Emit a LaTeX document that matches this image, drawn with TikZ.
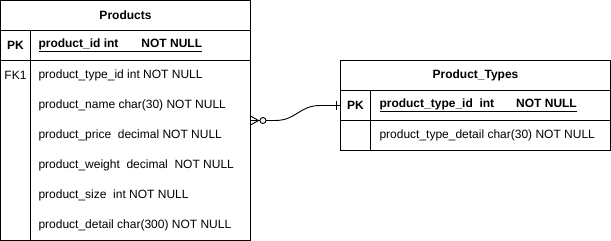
\documentclass[tikz,border=0pt]{standalone}
\usepackage{fontspec}
\setmainfont{Liberation Sans}
\usetikzlibrary{positioning, calc}

\begin{document}
\begin{tikzpicture}[x=1pt, y=-1pt, line width=1pt, font=\fontsize{12}{14}\selectfont]
    \tikzset{
      cell/.style={draw, anchor=north west, inner sep=0pt, outer sep=0pt, minimum height=30pt},
      field/.style={anchor=west, inner sep=0pt},
      conn/.style={draw, line width=0.9pt},
    }
    \useasboundingbox (0,0) rectangle (611,241);

    % Tabelle Products
    \node[cell, minimum width=250pt] (prod) at (0.5,0.5) {\bfseries Products};
    \node[cell, minimum width=30pt] (prodpk) at (0.5,30.5) {\bfseries PK};
    \node[cell, minimum width=220pt] (prodkey) at (30.5,30.5) {};
    \node[cell, minimum width=30pt, minimum height=180pt] (prodfk) at (0.5,60.5) {};
    \node[cell, minimum width=220pt, minimum height=180pt] (prodbody) at (30.5,60.5) {};
    \node[field] (prodid) at (38,45.5) {\bfseries\underline{product\_id int\hspace{23pt}NOT NULL}};
    \node (fklabel) at (15.5,75.5) {FK1};
    \foreach \txt [count=\i from 0] in {product\_type\_id int NOT NULL,
        product\_name char(30) NOT NULL,
        product\_price\ \ decimal NOT NULL,
        product\_weight\ \ decimal\ \ NOT NULL,
        product\_size\ \ int NOT NULL,
        product\_detail char(300) NOT NULL} {
      \node[field] (pf\i) at (38,75.5+30*\i) {\txt};
    }

    % Tabelle Product_Types
    \node[cell, minimum width=270pt] (ptype) at (340.5,60.5) {\bfseries Product\_Types};
    \node[cell, minimum width=30pt] (typepk) at (340.5,90.5) {\bfseries PK};
    \node[cell, minimum width=240pt] (typekey) at (370.5,90.5) {};
    \node[cell, minimum width=30pt] (typeside) at (340.5,120.5) {};
    \node[cell, minimum width=240pt] (typebody) at (370.5,120.5) {};
    \node[field] (typeid) at (379,105.5) {\bfseries\underline{product\_type\_id\ \ int\hspace{22pt}NOT NULL}};
    \node[field] (typedetail) at (379,135.5) {product\_type\_detail char(30) NOT NULL};

    % Beziehung: null oder viele -- genau eins
    \coordinate (fk) at ($(prodbody.north east)+(0,60)$);
    \coordinate (pk) at (typepk.west);
    \draw[conn] ($(fk)+(0,-4.5)$) -- ($(fk)+(8,0)$) -- ($(fk)+(0,4.5)$);
    \draw[conn] (fk) -- ++(9.5,0);
    \draw[conn] ($(fk)+(12.5,0)$) circle (3pt);
    \draw[conn] ($(fk)+(15.5,0)$) -- ++(9,0) .. controls +(22,0) and +(-22,0) .. ($(pk)+(-20,0)$) -- (pk);
    \draw[conn] ($(pk)+(-4,-4.5)$) -- ++(0,9);
  \end{tikzpicture}
\end{document}
